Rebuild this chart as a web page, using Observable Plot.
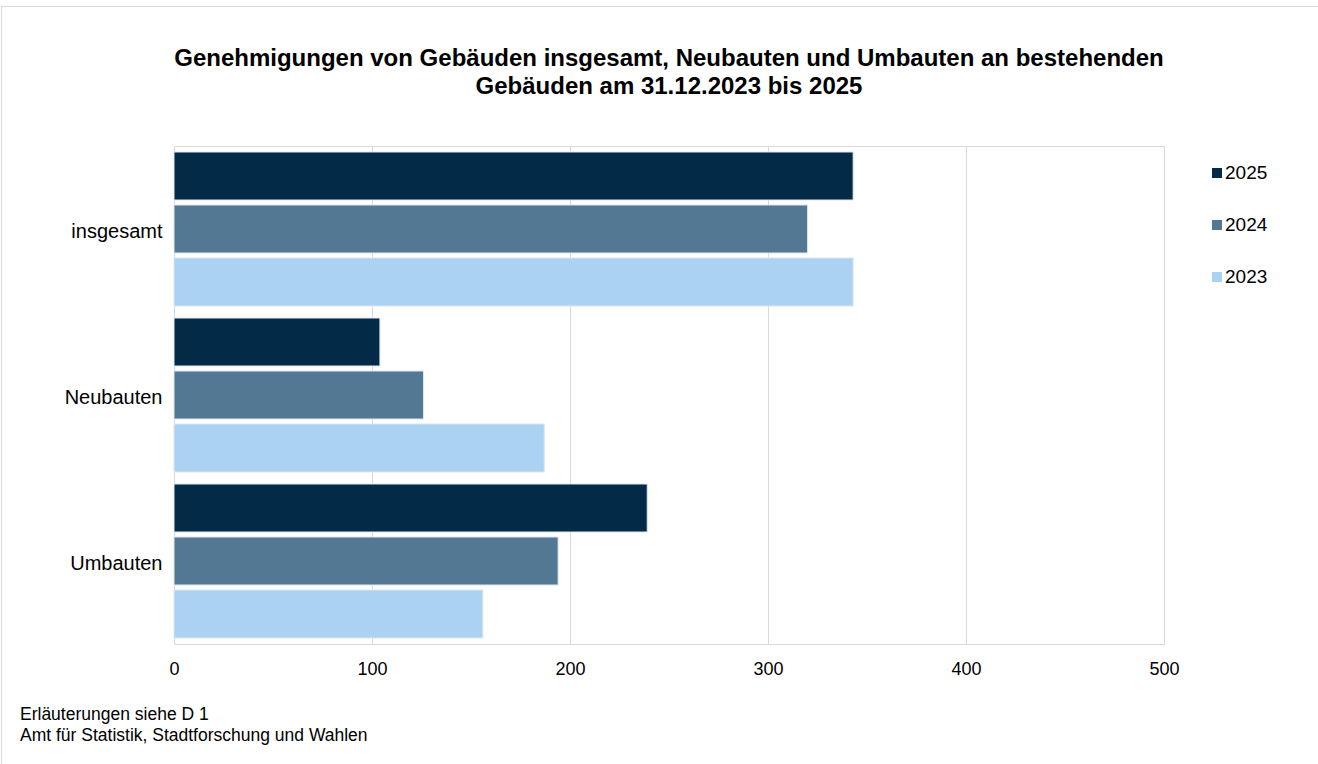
<!DOCTYPE html>
<html><head><meta charset="utf-8">
<script src="https://cdn.jsdelivr.net/npm/d3@7"></script>
<script src="https://cdn.jsdelivr.net/npm/@observablehq/plot@0.6"></script>
<style>
body{margin:0;background:#fff;font-family:"Liberation Sans",Arial,sans-serif;color:#000;}
#wrap{position:relative;width:1318px;height:764px;overflow:hidden;}
#border{position:absolute;left:1px;top:6px;width:1330px;height:800px;border:1px solid #d9d9d9;box-sizing:border-box;}
#title{position:absolute;left:160px;width:1018px;top:44px;text-align:center;font-weight:bold;font-size:24px;line-height:28px;}
#chart{position:absolute;left:0;top:110px;}
#legend{position:absolute;left:1212px;top:162px;}
.item{display:flex;align-items:center;height:22px;margin-bottom:30px;font-size:19px;}
.sw{width:10px;height:10px;margin-right:3px;}
#foot{position:absolute;left:20px;top:704px;font-size:17.5px;line-height:21px;}
</style></head>
<body>
<div id="wrap">
<div id="border"></div>
<div id="title">Genehmigungen von Gebäuden insgesamt, Neubauten und Umbauten an bestehenden<br>Gebäuden am 31.12.2023 bis 2025</div>
<div id="chart"></div>
<div id="legend"></div>
<div id="foot">Erläuterungen siehe D 1<br>Amt für Statistik, Stadtforschung und Wahlen</div>
</div>
<script>
const categories = ["insgesamt", "Neubauten", "Umbauten"];
const years = ["2025", "2024", "2023"];
const values2025 = [343, 104, 239];
const values2024 = [320, 126, 194];
const values2023 = [343, 187, 156];
const colors = ["#032b48", "#537893", "#abd1f3"];
const xTicks = [0, 100, 200, 300, 400, 500];

const series = {"2025": values2025, "2024": values2024, "2023": values2023};
const data = [];
categories.forEach((c, i) => years.forEach(y => data.push({category: c, year: y, value: series[y][i]})));

const chart = Plot.plot({
  width: 1318,
  height: 579,
  marginTop: 35,
  marginBottom: 45,
  marginLeft: 174,
  marginRight: 154,
  style: {fontSize: "18px", fontFamily: "Liberation Sans, Arial, sans-serif", color: "#000", background: "transparent"},
  x: {domain: [0, 500], ticks: xTicks, tickSize: 0, tickPadding: 18, label: null},
  y: {domain: years, axis: null, paddingInner: 0.0926, paddingOuter: 0.087},
  fy: {domain: categories, padding: 0, axis: null},
  color: {domain: years, range: colors},
  marks: [
    Plot.ruleX(xTicks, {stroke: "#d9d9d9", strokeWidth: 1}),
    Plot.frame({stroke: "#d9d9d9", facet: "super"}),
    Plot.axisFy({anchor: "left", domain: categories, tickSize: 0, tickPadding: 12, label: null, fontSize: 20, dy: 2}),
    Plot.barX(data, {x: "value", y: "year", fy: "category", fill: "year", stroke: "#dfe8f0", strokeWidth: 1})
  ]
});
document.getElementById("chart").appendChild(chart);

const legend = document.getElementById("legend");
years.forEach((y, i) => {
  const it = document.createElement("div");
  it.className = "item";
  it.innerHTML = `<span class="sw" style="background:${colors[i]}"></span><span>${y}</span>`;
  legend.appendChild(it);
});
</script>
</body></html>
